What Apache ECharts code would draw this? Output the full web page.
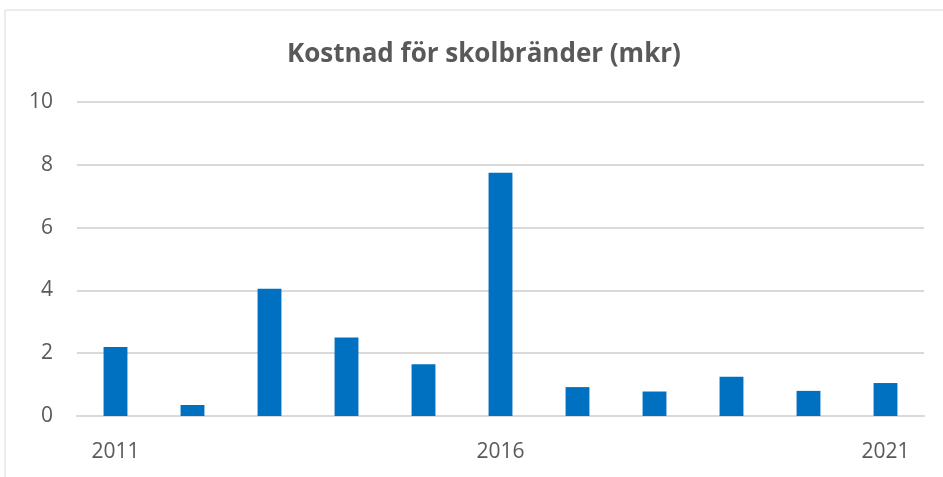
<!DOCTYPE html>
<html>
<head>
<meta charset="utf-8">
<script src="https://cdn.jsdelivr.net/npm/echarts@6/dist/echarts.min.js"></script>
<style>
  html, body { margin: 0; padding: 0; background: #fff; }
  #chart { width: 943px; height: 477px; }
</style>
</head>
<body>
<div id="chart"></div>
<script>
var years = ['2011', '2012', '2013', '2014', '2015', '2016', '2017', '2018', '2019', '2020', '2021'];
var costs = [2.2, 0.35, 4.05, 2.5, 1.65, 7.75, 0.92, 0.78, 1.25, 0.8, 1.05];

var myChart = echarts.init(document.getElementById('chart'));
var option = {
  backgroundColor: '#fff',
  animation: false,
  title: {
    text: 'Kostnad för skolbränder (mkr)',
    left: 282,
    top: 37,
    textStyle: {
      fontFamily: 'Open Sans',
      fontWeight: 'bold',
      fontSize: 26,
      color: '#595959'
    }
  },
  graphic: [{
    type: 'polyline',
    shape: { points: [[5, 477], [5, 10], [943, 10]] },
    style: { stroke: '#d9d9d9', lineWidth: 1, fill: null }
  }],
  grid: { left: 77, right: 19, top: 102, bottom: 61 },
  xAxis: {
    type: 'category',
    data: years,
    axisLine: { show: true, lineStyle: { color: '#d9d9d9', width: 2 } },
    axisTick: { show: false },
    axisLabel: {
      interval: 4,
      margin: 26,
      fontFamily: 'Open Sans',
      fontSize: 21,
      color: '#595959'
    }
  },
  yAxis: {
    type: 'value',
    min: 0,
    max: 10,
    interval: 2,
    axisLine: { show: false },
    axisTick: { show: false },
    axisLabel: {
      margin: 24,
      fontFamily: 'Open Sans',
      fontSize: 21,
      color: '#595959'
    },
    splitLine: { lineStyle: { color: '#d9d9d9', width: 2 } }
  },
  series: [{
    type: 'bar',
    data: costs,
    barWidth: '31%',
    itemStyle: { color: '#0070C0' }
  }]
};
myChart.setOption(option);
</script>
</body>
</html>
